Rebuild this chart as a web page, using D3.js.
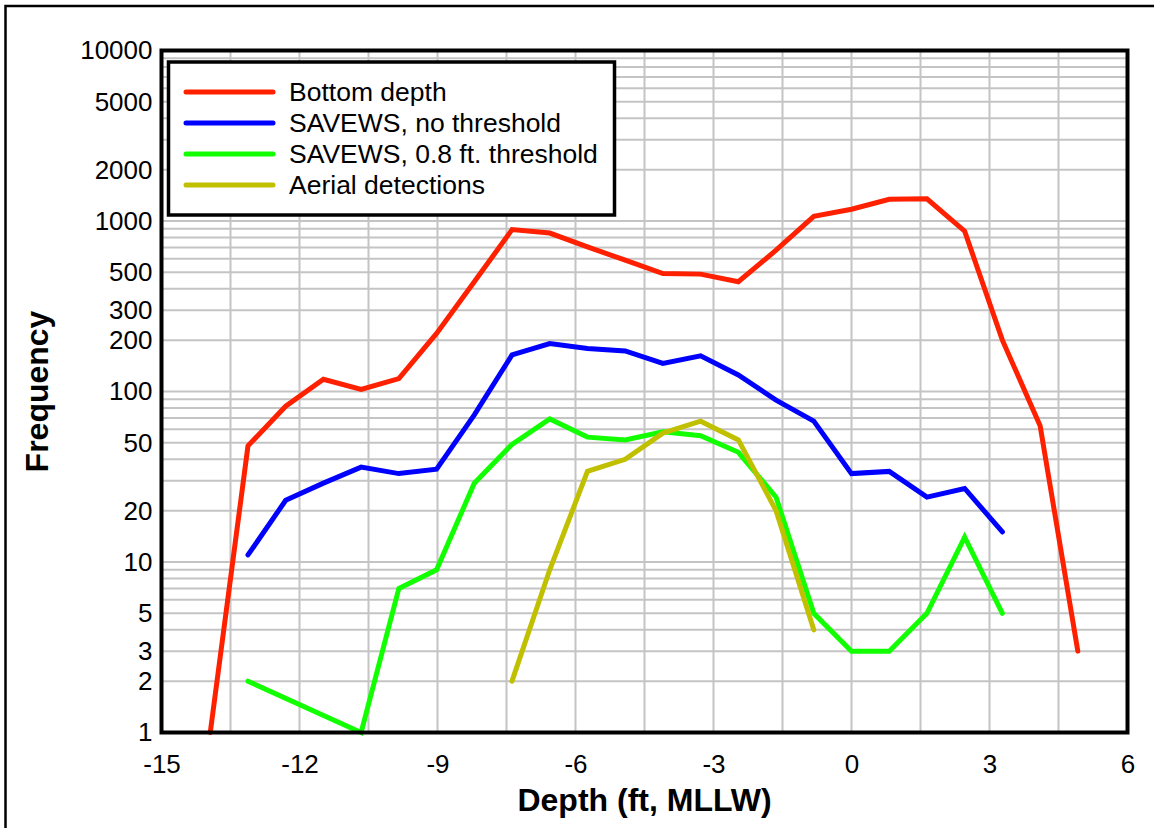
<!DOCTYPE html>
<html>
<head>
<meta charset="utf-8">
<script src="https://cdn.jsdelivr.net/npm/d3@7"></script>
<style>
  body { margin: 0; background: #fff; }
  svg text { font-family: "Liberation Sans", Arial, sans-serif; fill: #000; }
</style>
</head>
<body>
<div id="chart"></div>
<script>
// depth bins (ft, MLLW)
var depthFt = [-13.94, -13.12, -12.30, -11.48, -10.66, -9.84, -9.02, -8.20, -7.38, -6.56, -5.74, -4.92,
               -4.10, -3.28, -2.46, -1.64, -0.82, 0, 0.82, 1.64, 2.46, 3.28, 4.10, 4.92];

var bottomDepth = [1, 48, 82, 118, 103, 119, 219, 440, 890, 850, 705, 589,
                   492, 488, 440, 674, 1066, 1172, 1341, 1350, 871, 200, 63, 3];
var savewsNone = [null, 11, 23, 29, 36, 33, 35, 73, 164, 191, 179, 173,
                  146, 162, 125, 89, 67, 33, 34, 24, 27, 15, null, null];
var savews08 = [null, 2, null, null, 1, 7, 9, 29, 49, 69, 54, 52,
                58, 55, 44, 24, 5, 3, 3, 5, 14, 5, null, null];
var aerial = [null, null, null, null, null, null, null, null, 2, 9, 34, 40,
              57, 67, 52, 20, 4, null, null, null, null, null, null, null];

var seriesNames = ["Bottom depth", "SAVEWS, no threshold", "SAVEWS, 0.8 ft. threshold", "Aerial detections"];
var seriesColors = ["#ff2000", "#0000ff", "#11ff00", "#c0c000"];

var xTicks = [-15, -12, -9, -6, -3, 0, 3, 6];
var xGrid = [-13.5, -12, -10.5, -9, -7.5, -6, -4.5, -3, -1.5, 0, 1.5, 3, 4.5];
var yTicks = [1, 2, 3, 5, 10, 20, 50, 100, 200, 300, 500, 1000, 2000, 5000, 10000];

var width = 1154, height = 828;
var margin = { top: 50.5, right: 26.5, bottom: 95.5, left: 161.5 };

var svg = d3.select("#chart").append("svg")
    .attr("width", width)
    .attr("height", height);

// outer frame
svg.append("rect")
    .attr("x", 5.5).attr("y", 6)
    .attr("width", 1160).attr("height", 840)
    .attr("fill", "none")
    .attr("stroke", "#000")
    .attr("stroke-width", 2.5);

var x = d3.scaleLinear()
    .domain([-15, 6])
    .range([margin.left, width - margin.right]);

var y = d3.scaleLog()
    .domain([1, 10000])
    .range([height - margin.bottom, margin.top]);

// grid
var grid = svg.append("g")
    .attr("stroke", "#c4c4c4")
    .attr("stroke-width", 2);

grid.selectAll(".hg")
    .data(y.ticks())
    .enter().append("line")
    .attr("x1", x(-15)).attr("x2", x(6))
    .attr("y1", d => y(d)).attr("y2", d => y(d));

grid.selectAll(".vg")
    .data(xGrid)
    .enter().append("line")
    .attr("x1", d => x(d)).attr("x2", d => x(d))
    .attr("y1", y(1)).attr("y2", y(10000));

// series lines
var allSeries = [bottomDepth, savewsNone, savews08, aerial];

var line = d3.line()
    .x(d => x(d[0]))
    .y(d => y(d[1]));

allSeries.forEach(function (vals, i) {
    // empty bins are skipped, the line joins the neighbours
    var pts = depthFt.map((d, j) => [d, vals[j]]).filter(p => p[1] != null);
    svg.append("path")
        .datum(pts)
        .attr("fill", "none")
        .attr("stroke", seriesColors[i])
        .attr("stroke-width", 5)
        .attr("stroke-linejoin", "miter")
        .attr("stroke-linecap", "round")
        .attr("d", line);
});

// plot frame
svg.append("rect")
    .attr("x", x(-15)).attr("y", y(10000))
    .attr("width", x(6) - x(-15))
    .attr("height", y(1) - y(10000))
    .attr("fill", "none")
    .attr("stroke", "#000")
    .attr("stroke-width", 4);

// axes
var xAxis = svg.append("g")
    .attr("transform", `translate(0,${y(1)})`)
    .call(d3.axisBottom(x).tickValues(xTicks).tickFormat(d => String(d)).tickSize(0).tickPadding(22));
xAxis.select(".domain").remove();
xAxis.selectAll("text")
    .style("font-size", "26px");

var yAxis = svg.append("g")
    .attr("transform", `translate(${x(-15)},0)`)
    .call(d3.axisLeft(y).tickValues(yTicks).tickFormat(d3.format("d")).tickSize(0).tickPadding(9));
yAxis.select(".domain").remove();
yAxis.selectAll("text")
    .style("font-size", "26px");

svg.append("text")
    .attr("x", (x(-15) + x(6)) / 2)
    .attr("y", 811)
    .attr("text-anchor", "middle")
    .style("font-size", "32px")
    .style("font-weight", "bold")
    .text("Depth (ft, MLLW)");

svg.append("text")
    .attr("transform", `translate(48,${(y(1) + y(10000)) / 2}) rotate(-90)`)
    .attr("text-anchor", "middle")
    .style("font-size", "32px")
    .style("font-weight", "bold")
    .text("Frequency");

// legend
var legend = svg.append("g");

legend.append("rect")
    .attr("x", 168.5).attr("y", 62)
    .attr("width", 446).attr("height", 153)
    .attr("fill", "#fff")
    .attr("stroke", "#000")
    .attr("stroke-width", 3.5);

var item = legend.selectAll(".item")
    .data(seriesNames)
    .enter().append("g")
    .attr("transform", (d, i) => `translate(0,${92 + i * 31})`);

item.append("line")
    .attr("x1", 186).attr("x2", 273)
    .attr("stroke", (d, i) => seriesColors[i])
    .attr("stroke-width", 5)
    .attr("stroke-linecap", "round");

item.append("text")
    .attr("x", 289)
    .attr("y", 9)
    .style("font-size", "26.5px")
    .text(d => d);
</script>
</body>
</html>
